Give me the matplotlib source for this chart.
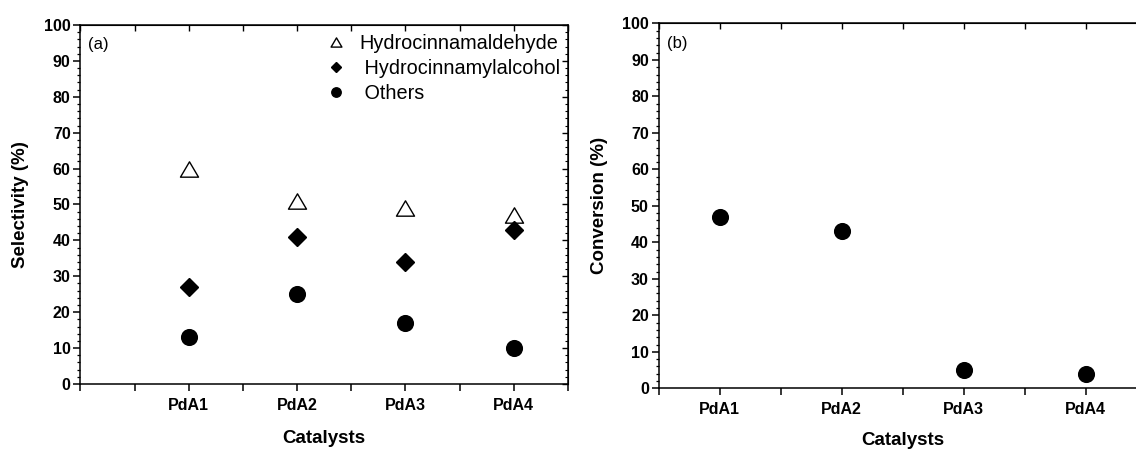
import matplotlib
matplotlib.use('Agg')
import matplotlib.pyplot as plt
from matplotlib.path import Path
from matplotlib.ticker import MultipleLocator, NullFormatter

plt.rcParams['font.family'] = ['Liberation Sans', 'DejaVu Sans']

# 数据
catalysts = ['PdA1', 'PdA2', 'PdA3', 'PdA4']
xpos = [1, 2, 3, 4]
sel_aldehyde = [60, 51, 49, 47]   # Hydrocinnamaldehyde
sel_alcohol = [27, 41, 34, 43]    # Hydrocinnamylalcohol
sel_others = [13, 25, 17, 10]     # Others
conversion = [47, 43, 5, 4]

# 等边三角形标记(闭合路径)
tri = Path([(0, 0.85), (-1, -0.85), (1, -0.85), (0, 0.85)], closed=True)


def style_axes(ax, xlim):
    ax.set_xlim(*xlim)
    ax.set_ylim(0, 100)
    ax.set_xticks(xpos)
    ax.set_xticklabels(catalysts)
    ax.xaxis.set_minor_locator(MultipleLocator(0.5))
    ax.yaxis.set_major_locator(MultipleLocator(10))
    ax.yaxis.set_minor_locator(MultipleLocator(2))
    ax.tick_params(axis='x', which='both', direction='out', length=5, width=1.1)
    ax.tick_params(axis='x', which='major', pad=5, labelsize=11.5)
    ax.tick_params(axis='y', which='major', direction='out', length=5, width=1.1,
                   labelsize=11.5, pad=2)
    ax.tick_params(axis='y', which='minor', direction='out', length=2.5, width=0.9)
    for lab in ax.get_xticklabels() + ax.get_yticklabels():
        lab.set_fontweight('bold')
    for s in ax.spines.values():
        s.set_linewidth(1.1)
    # 上边和右边的刻度朝内
    top = ax.secondary_xaxis('top')
    top.xaxis.set_major_locator(MultipleLocator(0.5))
    top.xaxis.set_major_formatter(NullFormatter())
    top.tick_params(direction='in', length=4, width=1.0)
    right = ax.secondary_yaxis('right')
    right.yaxis.set_major_locator(MultipleLocator(10))
    right.yaxis.set_major_formatter(NullFormatter())
    right.yaxis.set_minor_locator(MultipleLocator(2))
    right.tick_params(which='major', direction='in', length=4, width=1.0)
    right.tick_params(which='minor', direction='in', length=2, width=0.8)


fig = plt.figure(figsize=(11.36, 4.51), dpi=100)
ax1 = fig.add_axes([0.0708, 0.1486, 0.4292, 0.796])
ax2 = fig.add_axes([0.5797, 0.139, 0.4298, 0.809])

# (a) 选择性
h1, = ax1.plot(xpos, sel_aldehyde, ls='none', marker=tri, ms=13, mfc='white',
               mec='black', mew=1.0, label='Hydrocinnamaldehyde')
h2, = ax1.plot(xpos, sel_alcohol, ls='none', marker='D', ms=8.8, color='black',
               label=' Hydrocinnamylalcohol')
h3, = ax1.plot(xpos, sel_others, ls='none', marker='o', ms=11.3, color='black',
               label=' Others')
style_axes(ax1, (0, 4.5))
ax1.set_ylabel('Selectivity (%)', fontsize=13.5, fontweight='bold', labelpad=11)
ax1.set_xlabel('Catalysts', fontsize=13.5, fontweight='bold', labelpad=12)
ax1.text(0.015, 0.945, '(a)', transform=ax1.transAxes, fontsize=12, va='center')
ax1.legend(handles=[h1, h2, h3], loc='upper left', bbox_to_anchor=(0.503, 0.974),
           frameon=False, fontsize=14.3, markerscale=0.6, handlelength=1.0,
           handletextpad=0.7, labelspacing=0.3, borderpad=0, borderaxespad=0)

# (b) 转化率
ax2.plot(xpos, conversion, ls='none', marker='o', ms=11.3, color='black')
style_axes(ax2, (0.5, 4.5))
ax2.set_ylabel('Conversion (%)', fontsize=13.5, fontweight='bold', labelpad=10)
ax2.set_xlabel('Catalysts', fontsize=13.5, fontweight='bold', labelpad=10.5)
ax2.text(0.018, 0.945, '(b)', transform=ax2.transAxes, fontsize=12, va='center')

fig.savefig('out.png', dpi=100)
